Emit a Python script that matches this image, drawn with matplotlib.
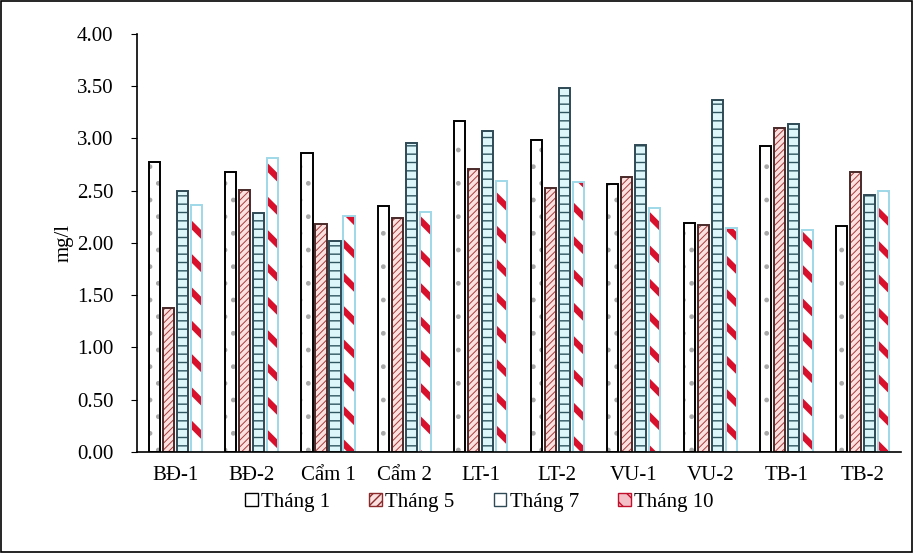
import numpy as np
import matplotlib
matplotlib.use("Agg")
import matplotlib.pyplot as plt
from matplotlib.patches import Rectangle

plt.rcParams['font.family'] = ['Liberation Serif', 'DejaVu Serif']

sites = ["BĐ-1", "BĐ-2", "Cẩm 1", "Cẩm 2", "LT-1", "LT-2", "VU-1", "VU-2", "TB-1", "TB-2"]
thang1 = [2.77, 2.68, 2.86, 2.35, 3.17, 2.99, 2.56, 2.19, 2.93, 2.16]
thang5 = [1.38, 2.51, 2.18, 2.24, 2.71, 2.53, 2.63, 2.17, 3.10, 2.68]
thang7 = [2.50, 2.29, 2.02, 2.96, 3.07, 3.48, 2.94, 3.37, 3.14, 2.46]
thang10 = [2.36, 2.81, 2.26, 2.30, 2.59, 2.58, 2.33, 2.14, 2.12, 2.50]
labels = ["Tháng 1", "Tháng 5", "Tháng 7", "Tháng 10"]

# face, hatch, hatch colour, hatch width, outline colour
styles = [
    ("white", ".", "#a8a8a8", 1.0, "black"),
    ("#fbe0e0", "/////", "#a83a3a", 0.7, "#4a2a2a"),
    ("#dcf6fa", "--", "#2f5560", 1.0, "#2f4a55"),
    ("white", "\\", "#d8102c", 4.5, "#9fd8e8"),
]
# legend swatches: face, hatch, edge
leg_styles = [
    ("white", "", "black"),
    ("#fbe0e0", "////", "#8b2a2a"),
    ("white", "-", "#2f4a55"),
    ("#f3c0c8", "\\\\", "#c0102c"),
]

fig = plt.figure(figsize=(9.13, 5.53), dpi=100)
ax = fig.add_axes([0.150, 0.183, 0.837, 0.7555])

x = np.arange(len(sites))
step = 0.183
width = 0.145
series = [thang1, thang5, thang7, thang10]
for i, (vals, st) in enumerate(zip(series, styles)):
    face, hatch, hcol, hlw, ecol = st
    pos = x + (i - 1.5) * step
    plt.rcParams['hatch.linewidth'] = hlw
    b = ax.bar(pos, vals, width, color=face, edgecolor=hcol, hatch=hatch, linewidth=0)
    for p in b:
        try:
            p.set_hatch_linewidth(hlw)
        except AttributeError:
            pass
    ax.bar(pos, vals, width, color="none", edgecolor=ecol, linewidth=1.4)

plt.rcParams['hatch.linewidth'] = 1.0
handles = [Rectangle((0, 0), 1, 1, facecolor=f, edgecolor=e, hatch=h, linewidth=1.0)
           for f, h, e in leg_styles]

ax.set_xlim(-0.5, 9.5)
ax.set_ylim(0, 4.0)
yt = np.arange(0, 4.01, 0.5)
ax.set_yticks(yt)
ax.set_yticklabels([f"{v:.2f}" for v in yt])
ax.set_xticks(x)
ax.set_xticklabels(sites)
ax.tick_params(axis='x', length=0, pad=10, labelsize=15)
ax.tick_params(axis='y', length=4, pad=13, labelsize=15, direction='out')
ax.spines['top'].set_visible(False)
ax.spines['right'].set_visible(False)
ax.spines['left'].set_linewidth(1.2)
ax.spines['bottom'].set_linewidth(1.2)
ax.set_ylabel("mg/l", fontsize=15, labelpad=2)

ax.legend(handles, labels, loc='center', bbox_to_anchor=(0.525, 0.092),
          bbox_transform=fig.transFigure, ncol=4, frameon=False, fontsize=15,
          handlelength=0.6, handleheight=0.6, handletextpad=0.15, columnspacing=1.9)

fig.patches.append(Rectangle((0.001, 0.001), 0.998, 0.997, transform=fig.transFigure,
                             fill=False, edgecolor='black', linewidth=1.2))

fig.savefig("out.png", dpi=100)
